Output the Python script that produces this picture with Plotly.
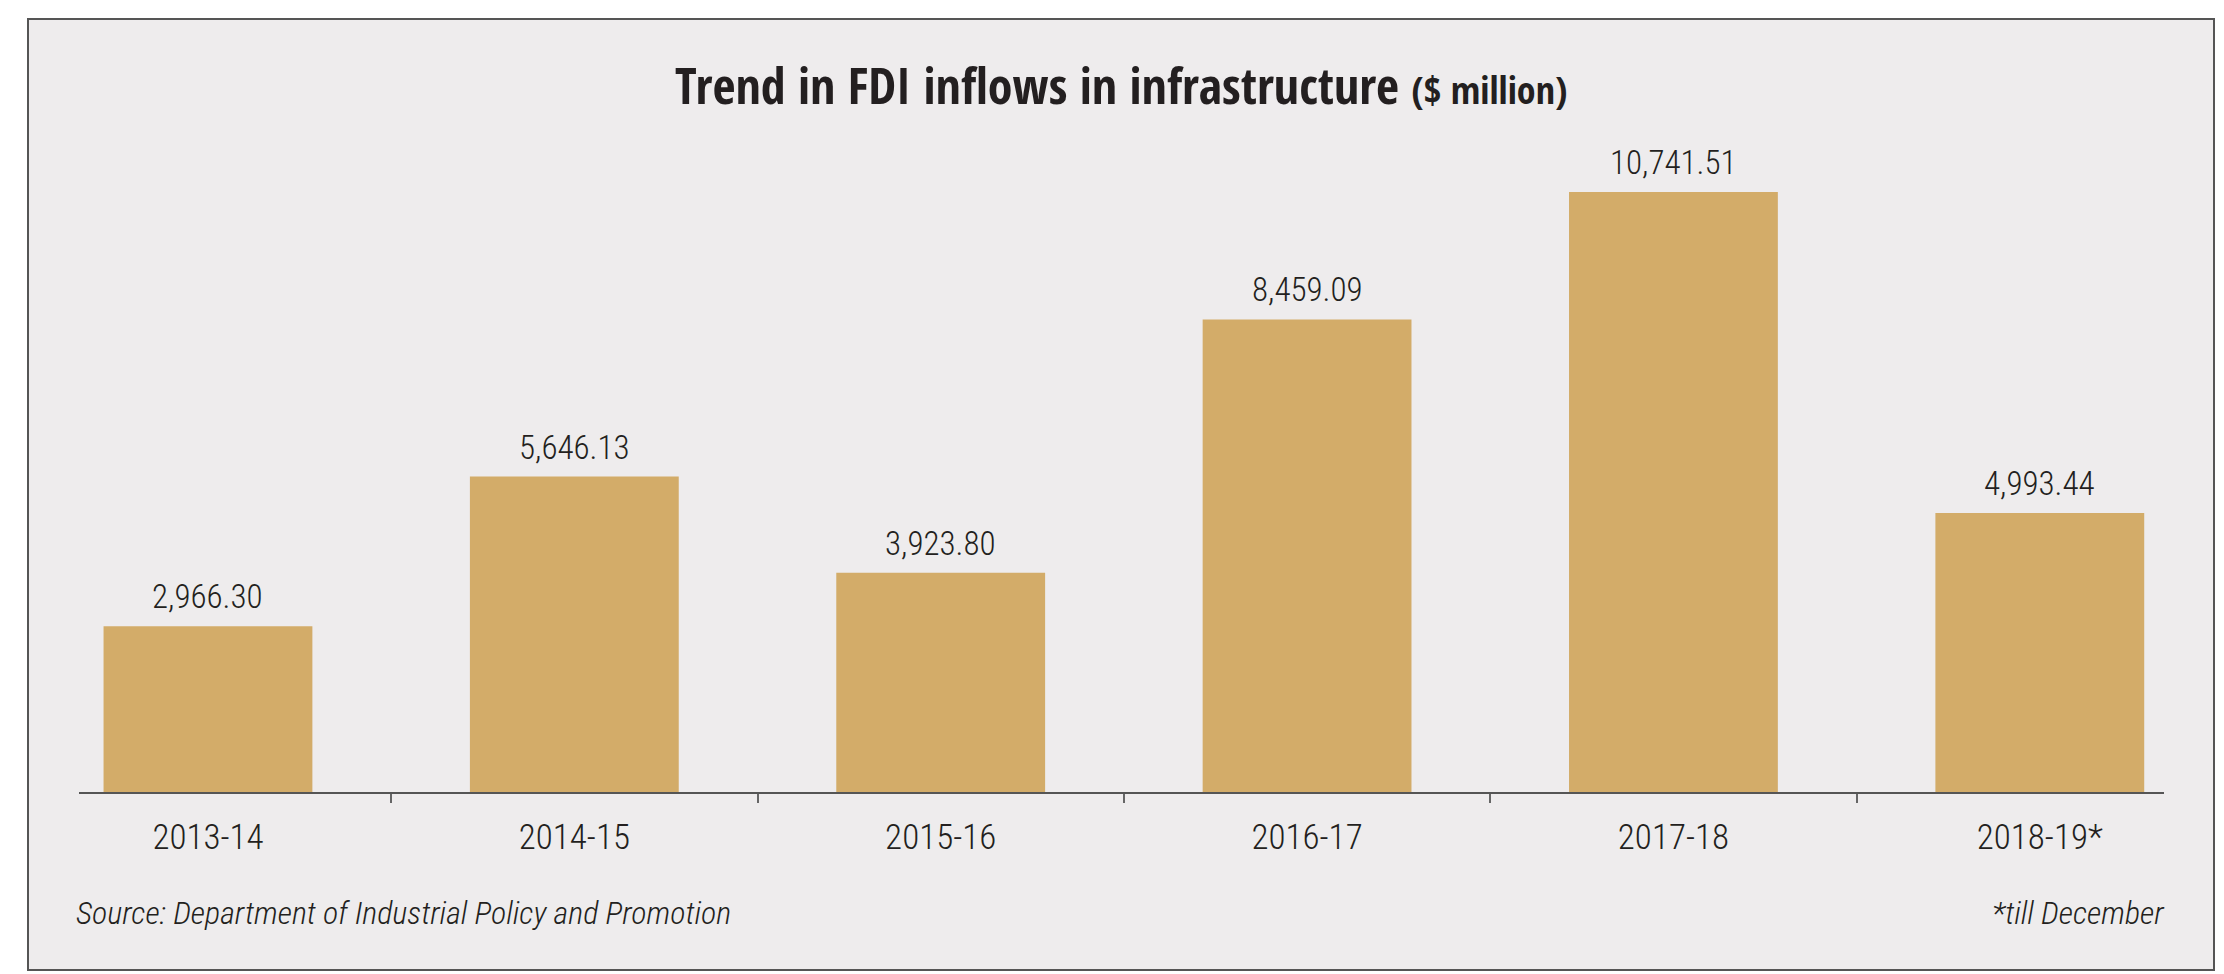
import plotly.graph_objects as go

categories = ["2013-14", "2014-15", "2015-16", "2016-17", "2017-18", "2018-19*"]
values = [2966.30, 5646.13, 3923.80, 8459.09, 10741.51, 4993.44]
value_labels = ["2,966.30", "5,646.13", "3,923.80", "8,459.09", "10,741.51", "4,993.44"]

title_main = "Trend in FDI inflows in infrastructure"
title_unit = "($ million)"
source_text = "Source: Department of Industrial Policy and Promotion"
footnote_text = "*till December"

W, H = 2224, 974
BG = "#EEECED"
BAR = "#D3AC69"
TXT = "#231F20"
COND = "Roboto Condensed, Liberation Sans Narrow, DejaVu Sans Condensed, sans-serif"
HEAVY = "Open Sans Condensed, Roboto Condensed, DejaVu Sans Condensed, sans-serif"

L, R, T, B = 71, 68, 130, 190
plot_w = W - L - R
plot_h = H - T - B

fig = go.Figure()
fig.add_trace(go.Bar(
    x=categories, y=values,
    marker=dict(color=BAR, line=dict(width=0)),
    hoverinfo="x+y",
))

annotations = []
for c, v, lab in zip(categories, values, value_labels):
    annotations.append(dict(
        x=c, y=v, xref="x", yref="y", text=lab, showarrow=False,
        yanchor="bottom", yshift=8,
        font=dict(family=COND, size=33, color=TXT, weight=300),
    ))

def px_x(p):
    return (p - L) / plot_w

def px_y(p):
    return (H - B - p) / plot_h

annotations.append(dict(
    x=px_x(66), y=px_y(905), xref="paper", yref="paper", text=source_text,
    showarrow=False, xanchor="left", yanchor="middle",
    font=dict(family=COND, size=32, color=TXT, style="italic", weight=300),
))
annotations.append(dict(
    x=px_x(2159), y=px_y(905), xref="paper", yref="paper", text=footnote_text,
    showarrow=False, xanchor="right", yanchor="middle",
    font=dict(family=COND, size=32, color=TXT, style="italic", weight=300),
))
annotations.append(dict(
    x=px_x(1113), y=px_y(77), xref="paper", yref="paper",
    text=title_main + " <span style='font-size:38px'>" + title_unit + "</span>",
    showarrow=False, xanchor="center", yanchor="middle",
    font=dict(family=HEAVY, size=50, color=TXT, weight=700),
))

shapes = [dict(
    type="rect", xref="paper", yref="paper",
    x0=px_x(20), x1=px_x(2206), y0=px_y(962), y1=px_y(11),
    line=dict(color="#555555", width=2), fillcolor=BG, layer="below",
)]

fig.update_layout(
    width=W, height=H,
    margin=dict(l=L, r=R, t=T, b=B, pad=0),
    paper_bgcolor="white", plot_bgcolor=BG,
    showlegend=False,
    bargap=0.43,
    annotations=annotations,
    shapes=shapes,
    xaxis=dict(
        type="category", range=[-0.352, 5.339],
        tickson="boundaries", ticks="outside", ticklen=9, tickwidth=1.5, tickcolor="#666666",
        showline=True, linecolor="#555555", linewidth=2,
        showgrid=False, zeroline=False,
        tickfont=dict(family=COND, size=35, color=TXT, weight=300),
        ticklabelstandoff=13,
    ),
    yaxis=dict(
        range=[0, 11708], visible=False, showgrid=False, zeroline=False, fixedrange=True,
    ),
)

fig.write_html("out.html")
